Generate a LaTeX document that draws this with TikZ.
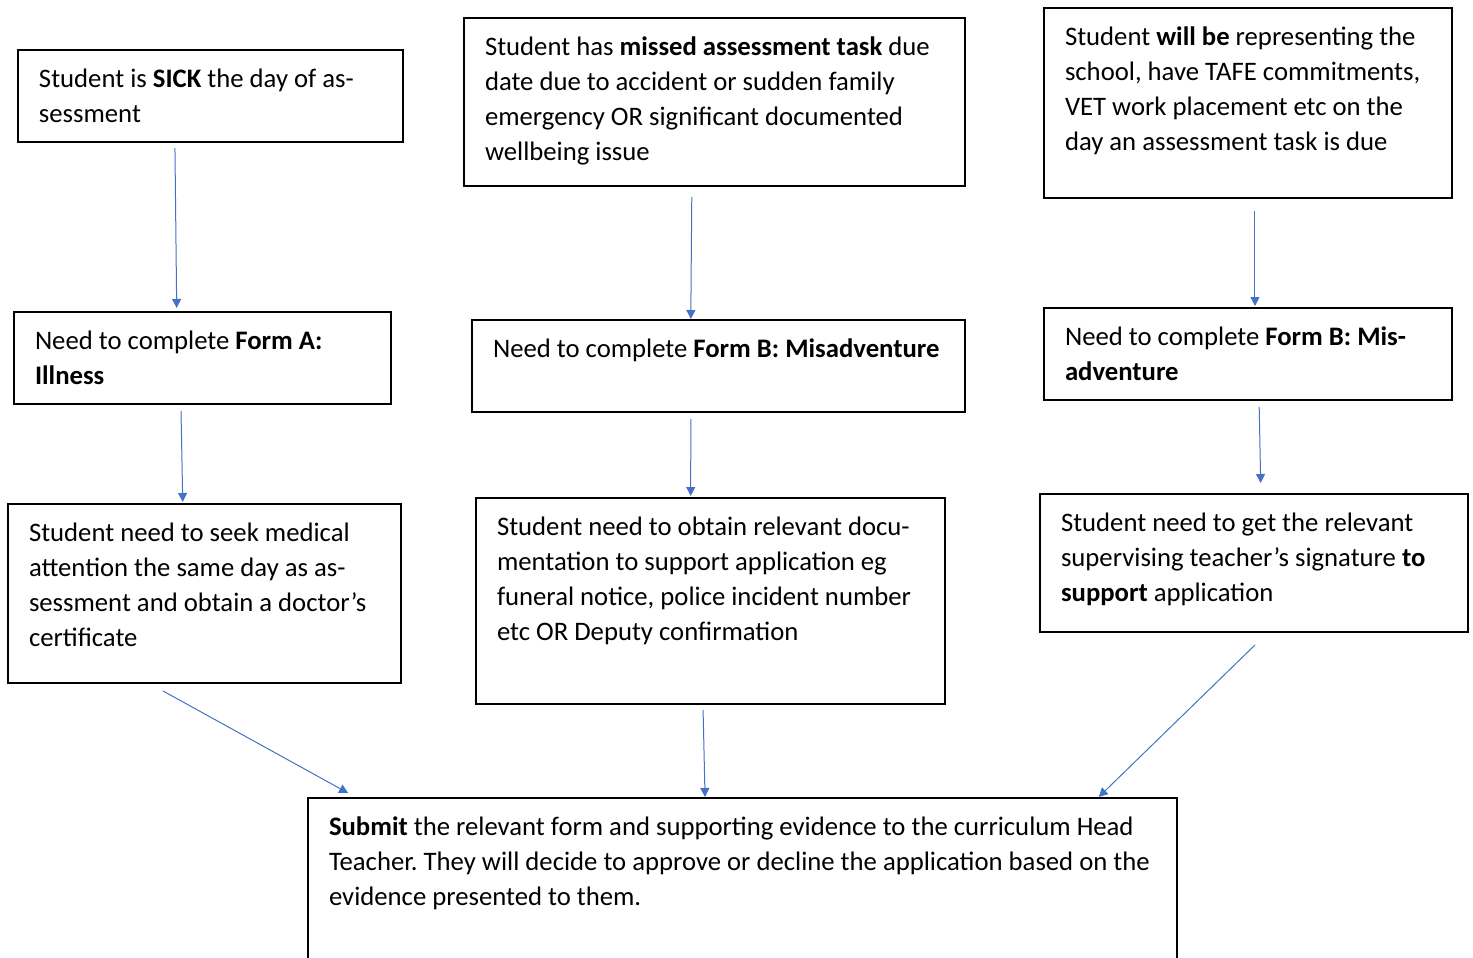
\documentclass[tikz,border=0pt]{standalone}
\usepackage{fontspec}
\setmainfont{Carlito}
\usetikzlibrary{arrows.meta, calc}
\definecolor{arrowblue}{RGB}{68,114,196}
\newlength\pxu
\setlength\pxu{0.5pt}
% text set at the top of a box of given width and height (in px)
\newcommand\boxtext[3]{\parbox[c][#2\pxu][t]{\dimexpr#1\pxu-21pt\relax}{\raggedright\frenchspacing\rule{0pt}{18.6pt}#3}}
\tikzset{
  stepbox/.style={
    rectangle, draw=black, line width=1pt,
    inner xsep=10.5pt, inner ysep=0pt, anchor=north west,
    font=\fontsize{13.35pt}{17.5pt}\selectfont},
  arr/.style={-{Triangle[length=4.5pt,width=4.5pt]}, line width=0.5pt, arrowblue},
}
\begin{document}
\begin{tikzpicture}[x=0.5pt, y=-0.5pt]
  \useasboundingbox (0,0) rectangle (1473,958);
  \clip (0,0) rectangle (1473,958);
  % top row
  \node[stepbox] (sick) at (17,49)
    {\boxtext{385}{92}{Student is \textbf{SICK} the day of as-\\sessment}};
  \node[stepbox] (missed) at (463,17)
    {\boxtext{501}{168}{Student has \textbf{missed assessment task} due\\date due to accident or sudden family\\emergency OR significant documented\\wellbeing issue}};
  \node[stepbox] (willbe) at (1043,7)
    {\boxtext{408}{190}{Student \textbf{will be} representing the\\school, have TAFE commitments,\\VET work placement etc on the\\day an assessment task is due}};
  % forms
  \node[stepbox] (formA) at (13,311)
    {\boxtext{377}{92}{Need to complete \textbf{Form A:}\\\textbf{Illness}}};
  \node[stepbox] (formBmid) at (471,319)
    {\boxtext{493}{92}{Need to complete \textbf{Form B: Misadventure}}};
  \node[stepbox] (formBright) at (1043,307)
    {\boxtext{408}{92}{Need to complete \textbf{Form B: Mis-}\\\textbf{adventure}}};
  % evidence
  \node[stepbox] (medical) at (7,503)
    {\boxtext{393}{179}{Student need to seek medical\\attention the same day as as-\\sessment and obtain a doctor’s\\certificate}};
  \node[stepbox] (docu) at (475,497)
    {\boxtext{469}{206}{Student need to obtain relevant docu-\\mentation to support application eg\\funeral notice, police incident number\\etc OR Deputy confirmation}};
  \node[stepbox] (sign) at (1039,493)
    {\boxtext{428}{138}{Student need to get the relevant\\supervising teacher’s signature \textbf{to}\\\textbf{support} application}};
  % submit
  \node[stepbox] (submit) at (307,797)
    {\boxtext{869}{200}{\textbf{Submit} the relevant form and supporting evidence to the curriculum Head\\Teacher. They will decide to approve or decline the application based on the\\evidence presented to them.}};

  \draw[arr, shorten <=2.5pt, shorten >=1.5pt]
    ($(sick.south west)!0.408!(sick.south east)$) -- ($(formA.north west)!0.432!(formA.north east)$);
  \draw[arr, shorten <=5pt]
    ($(missed.south west)!0.455!(missed.south east)$) -- ($(formBmid.north west)!0.444!(formBmid.north east)$);
  \draw[arr, shorten <=6pt, shorten >=0.5pt]
    ($(willbe.south west)!0.517!(willbe.south east)$) -- ($(formBright.north west)!0.517!(formBright.north east)$);
  \draw[arr, shorten <=3pt, shorten >=0.5pt]
    ($(formA.south west)!0.443!(formA.south east)$) -- ($(medical.north west)!0.445!(medical.north east)$);
  \draw[arr, shorten <=3pt, shorten >=0.5pt]
    ($(formBmid.south west)!0.444!(formBmid.south east)$) -- ($(docu.north west)!0.458!(docu.north east)$);
  \draw[arr, shorten <=3pt, shorten >=5pt]
    ($(formBright.south west)!0.527!(formBright.south east)$) -- ($(sign.north west)!0.516!(sign.north east)$);
  \draw[arr, shorten <=7.2pt, shorten >=4.1pt]
    ($(medical.south west)!0.363!(medical.south east)$) -- ($(submit.north west)!0.0555!(submit.north east)$);
  \draw[arr, shorten <=2.5pt]
    ($(docu.south west)!0.484!(docu.south east)$) -- ($(submit.north west)!0.457!(submit.north east)$);
  \draw[arr, shorten <=8.6pt]
    ($(sign.south west)!0.531!(sign.south east)$) -- ($(submit.north west)!0.909!(submit.north east)$);
\end{tikzpicture}
\end{document}
